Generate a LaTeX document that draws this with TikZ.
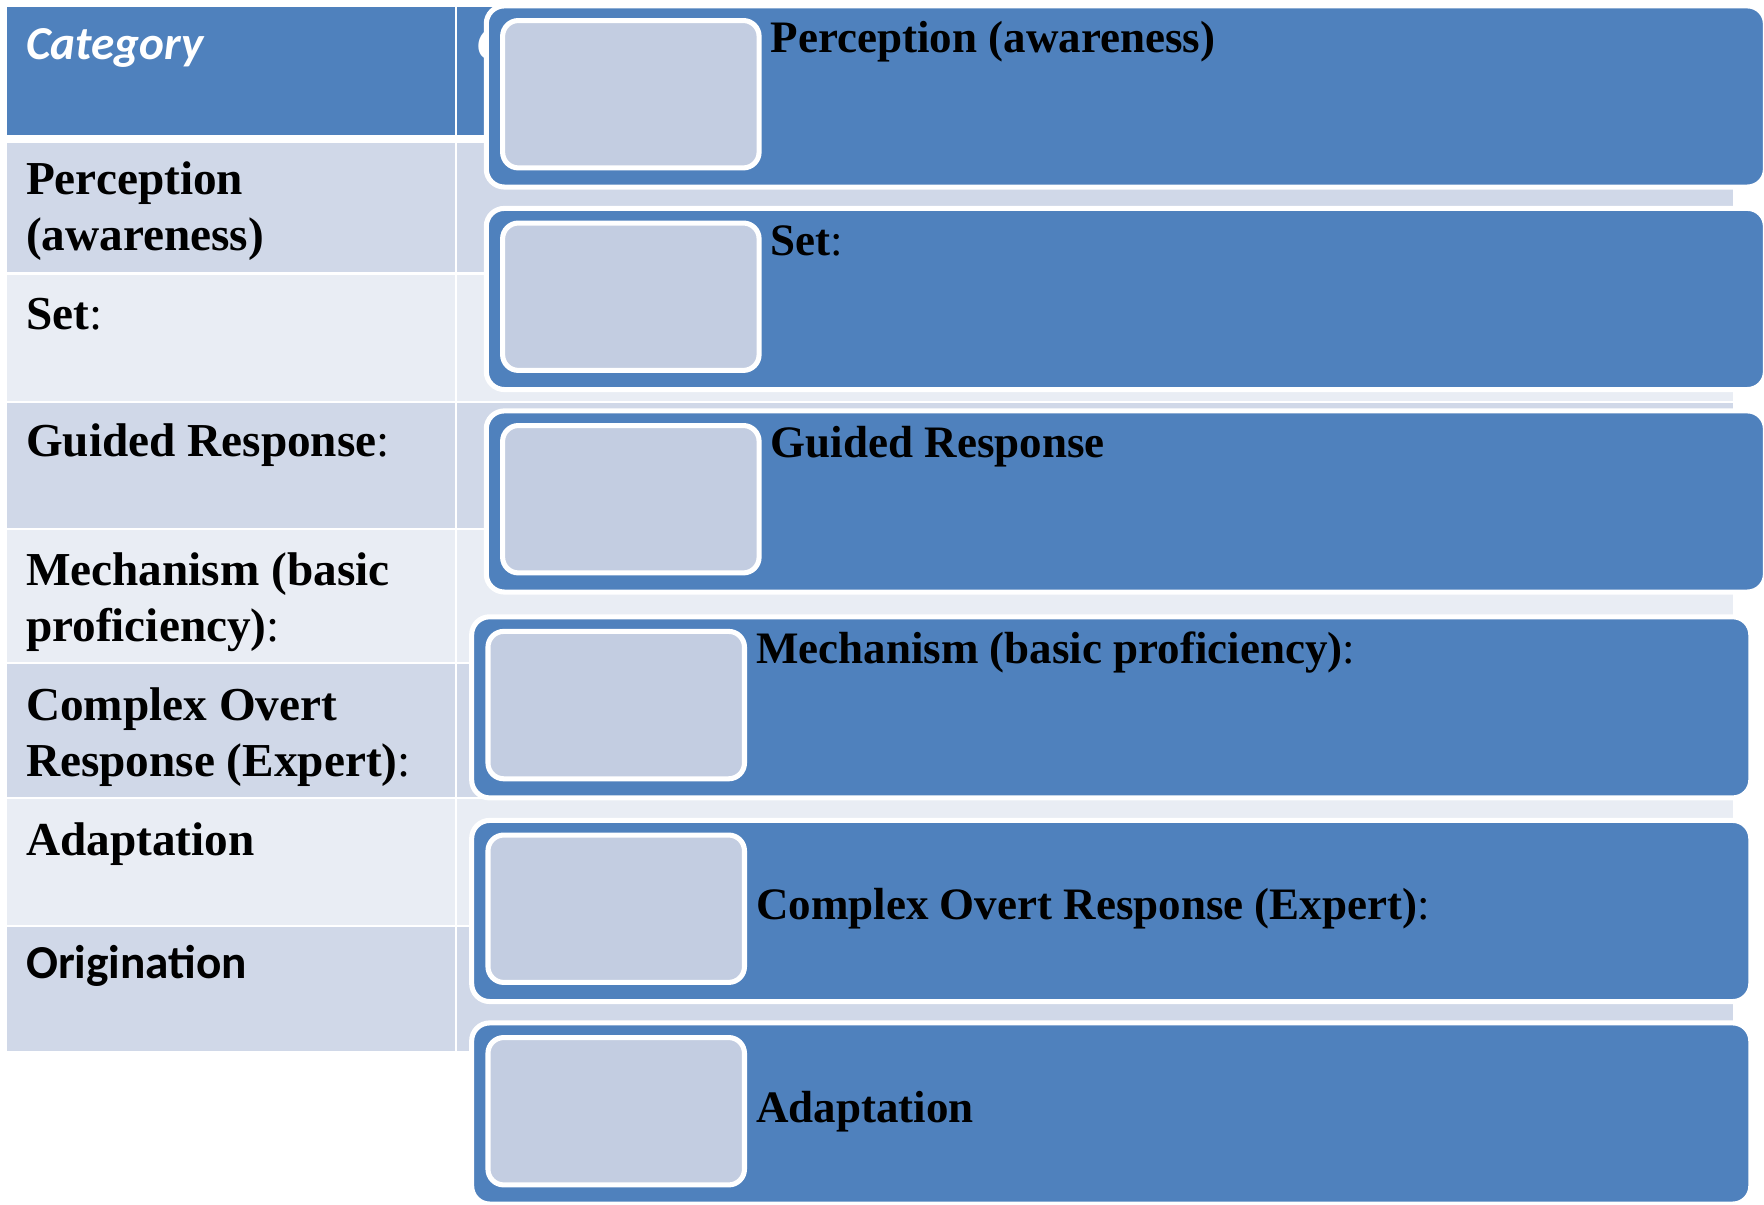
\documentclass[tikz,border=0pt]{standalone}
\usepackage{fontspec}
\setmainfont{Liberation Serif}
\newfontfamily\calibri{Carlito}
\usepackage{tikz}
\usetikzlibrary{positioning}
\definecolor{hdrblue}{HTML}{4F81BD}
\definecolor{rowdark}{HTML}{D0D8E8}
\definecolor{rowlight}{HTML}{E9EDF4}
\definecolor{innerfill}{HTML}{C3CDE1}
\tikzset{
  outerbox/.style={rectangle, rounded corners=16pt, fill=hdrblue, draw=white, line width=4.5pt,
    minimum width=1137pt, minimum height=161pt, inner sep=0pt, anchor=north west},
  innerbox/.style={rectangle, rounded corners=14pt, fill=innerfill, draw=white, line width=4.5pt,
    minimum width=228pt, minimum height=131pt, inner sep=0pt},
  boxtext/.style={inner sep=0pt, font=\fontsize{40}{48}\selectfont\bfseries},
  celltext/.style={inner sep=0pt, anchor=base west, align=left, font=\fontsize{42}{50}\selectfont\bfseries},
}

\begin{document}
\begin{tikzpicture}[x=1pt, y=-1pt]
  \useasboundingbox (0,0) rectangle (1568,1071);

  % table behind the boxes
  \fill[hdrblue] (6,6) rectangle (1540,120);
  \fill[rowdark] (6,127) rectangle (1540,242);
  \fill[rowlight] (6,244) rectangle (1540,356);
  \fill[rowdark] (6,358) rectangle (1540,469);
  \fill[rowlight] (6,471) rectangle (1540,588);
  \fill[rowdark] (6,590) rectangle (1540,708);
  \fill[rowlight] (6,710) rectangle (1540,822);
  \fill[rowdark] (6,824) rectangle (1540,934);
  \draw[white, line width=2pt] (405,6) -- (405,934);

  \node (hdr1) at (23,53) [celltext, font=\fontsize{42}{50}\selectfont\calibri\bfseries\itshape, text=white] {Category};
  \node (hdr2) at (424,53) [celltext, font=\fontsize{42}{50}\selectfont\calibri\bfseries\itshape, text=white] {C};

  % two-line cells sit on their last baseline
  \node (cell1) at (23,223) [celltext] {Perception\\(awareness)};
  \node (cell2) at (23,293) [celltext] {Set\textmd{:}};
  \node (cell3) at (23,406) [celltext] {Guided Response\textmd{:}};
  \node (cell4) at (23,570) [celltext] {Mechanism (basic\\proficiency)\textmd{:}};
  \node (cell5) at (23,690) [celltext] {Complex Overt\\Response (Expert)\textmd{:}};
  \node (cell6) at (23,760) [celltext] {Adaptation};
  \node (cell7) at (23,870) [celltext, font=\fontsize{42}{50}\selectfont\calibri\bfseries] {Origination};

  % the six boxes
  \node (box1) at (430,3) [outerbox] {};
  \node (box2) at (430,183) [outerbox] {};
  \node (box3) at (430,363) [outerbox] {};
  \node (box4) at (417,546) [outerbox] {};
  \node (box5) at (417,727) [outerbox] {};
  \node (box6) at (417,907) [outerbox] {};

  \node (in1) [innerbox, below right=13pt and 14.5pt of box1.north west] {};
  \node (in2) [innerbox, below right=13pt and 14.5pt of box2.north west] {};
  \node (in3) [innerbox, below right=13pt and 14.5pt of box3.north west] {};
  \node (in4) [innerbox, below right=13pt and 14.5pt of box4.north west] {};
  \node (in5) [innerbox, below right=13pt and 14.5pt of box5.north west] {};
  \node (in6) [innerbox, below right=13pt and 14.5pt of box6.north west] {};

  \node (lbl1) [boxtext, below right=31pt and 8pt of in1.north east, anchor=base west] {Perception (awareness)};
  \node (lbl2) [boxtext, below right=31pt and 8pt of in2.north east, anchor=base west] {Set\textmd{:}};
  \node (lbl3) [boxtext, below right=31pt and 8pt of in3.north east, anchor=base west] {Guided Response};
  \node (lbl4) [boxtext, below right=31pt and 8pt of in4.north east, anchor=base west] {Mechanism (basic proficiency)\textmd{:}};
  \node (lbl5) [boxtext, right=8pt of in5.east] {Complex Overt Response (Expert)\textmd{:}};
  \node (lbl6) [boxtext, right=8pt of in6.east] {Adaptation};
\end{tikzpicture}
\end{document}
